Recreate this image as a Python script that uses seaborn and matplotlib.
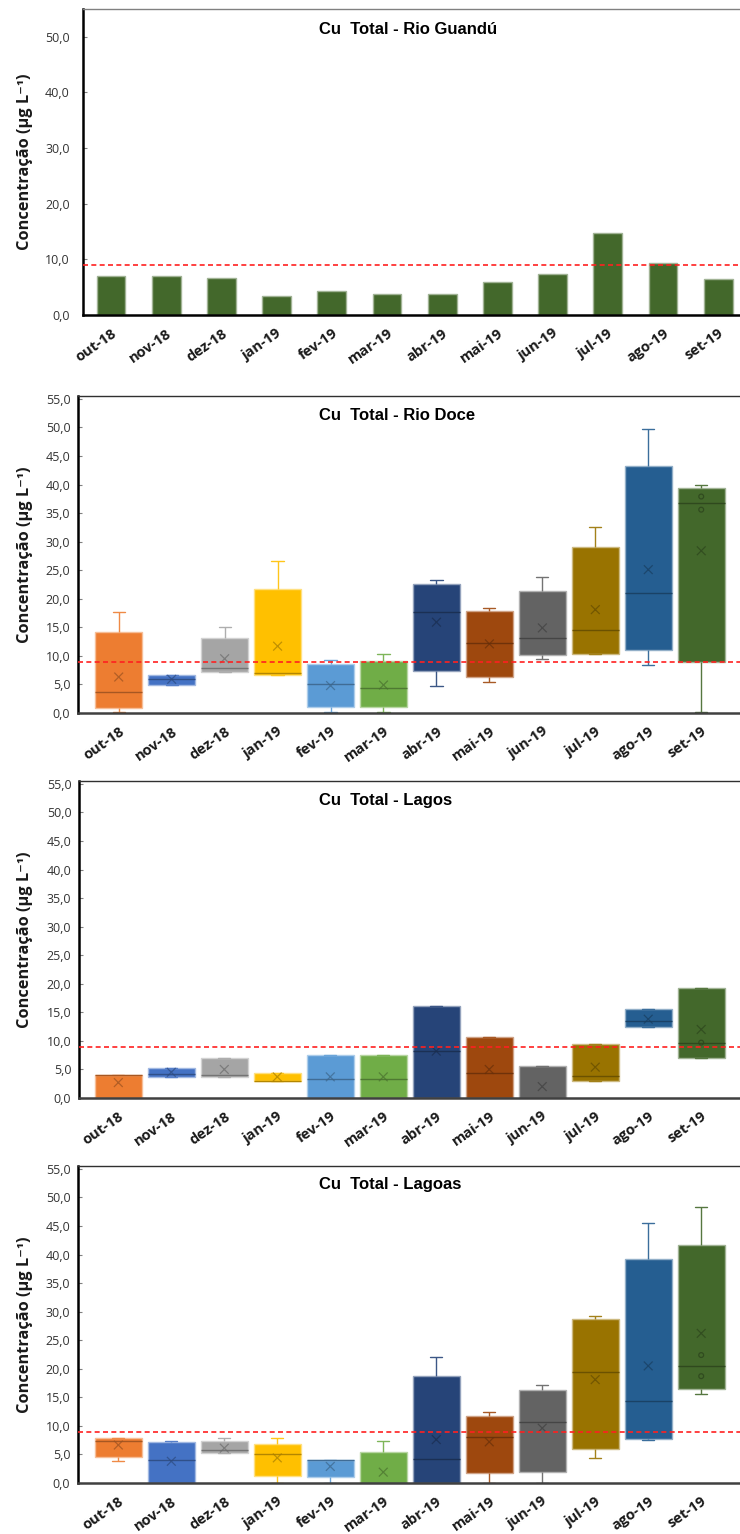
import numpy as np
import matplotlib
matplotlib.use("Agg")
import matplotlib.pyplot as plt
from matplotlib.colors import to_rgb
from matplotlib.ticker import FuncFormatter, MultipleLocator
import seaborn as sns

# ---------------------------------------------------------------- data
months = ["out-18", "nov-18", "dez-18", "jan-19", "fev-19", "mar-19",
          "abr-19", "mai-19", "jun-19", "jul-19", "ago-19", "set-19"]
month_colors = ["#ED7D31", "#4472C4", "#A5A5A5", "#FFC000", "#5B9BD5", "#70AD47",
                "#264478", "#9E480E", "#636363", "#997300", "#255E91", "#43682B"]

# Rio Guandú (single value per campaign)
guandu_values = [7.0, 7.0, 6.6, 3.4, 4.3, 3.7, 3.7, 6.0, 7.4, 14.7, 9.3, 6.4]

# Rio Doce
doce_low    = [0.1, 4.9, 7.2, 6.6, 0.1, 0.1, 4.8, 5.4, 9.5, 10.4, 8.4, 0.1]
doce_q1     = [0.8, 4.9, 7.2, 6.6, 1.05, 1.05, 7.4, 6.3, 10.2, 10.4, 11.0, 8.9]
doce_median = [3.7, 5.95, 7.8, 7.0, 5.0, 4.4, 17.6, 12.3, 13.1, 14.6, 21.0, 36.8]
doce_q3     = [14.2, 6.7, 13.2, 21.7, 8.6, 9.1, 22.5, 17.9, 21.4, 29.1, 43.2, 39.4]
doce_high   = [17.6, 6.7, 15.1, 26.6, 9.3, 10.4, 23.2, 18.3, 23.8, 32.6, 49.7, 39.9]
doce_mean   = [6.3, 5.9, 9.5, 11.7, 4.8, 4.9, 15.9, 12.1, 14.9, 18.1, 25.1, 28.4]
doce_points = {"set-19": [37.9, 35.6]}

# Lagos
lagos_low    = [0.0, 3.6, 3.6, 3.0, 0.0, 0.0, 0.0, 0.0, 0.0, 3.0, 12.4, 7.0]
lagos_q1     = [0.0, 3.6, 3.6, 3.0, 0.0, 0.0, 0.0, 0.0, 0.0, 3.0, 12.4, 7.0]
lagos_median = [4.0, 4.2, 4.0, 3.0, 3.3, 3.3, 8.2, 4.4, 0.0, 3.9, 13.5, 9.6]
lagos_q3     = [4.0, 5.3, 7.0, 4.4, 7.5, 7.5, 16.1, 10.6, 5.6, 9.5, 15.5, 19.3]
lagos_high   = [4.0, 5.3, 7.0, 4.4, 7.5, 7.5, 16.1, 10.6, 5.6, 9.5, 15.5, 19.3]
lagos_mean   = [2.7, 4.5, 5.0, 3.7, 3.7, 3.7, 8.2, 5.0, 2.0, 5.4, 13.8, 12.0]
lagos_points = {"set-19": [9.7]}

# Lagoas
lagoas_low    = [3.8, 0.0, 5.3, 0.0, 0.0, 0.0, 0.0, 0.0, 0.0, 4.4, 7.5, 15.6]
lagoas_q1     = [4.55, 0.0, 5.3, 1.2, 1.0, 0.0, 0.0, 1.75, 2.0, 6.0, 7.7, 16.4]
lagoas_median = [7.4, 4.0, 5.8, 5.0, 4.0, 0.0, 4.2, 8.0, 10.7, 19.4, 14.4, 20.5]
lagoas_q3     = [7.8, 7.2, 7.35, 6.9, 4.0, 5.5, 18.7, 11.7, 16.2, 28.8, 39.3, 41.7]
lagoas_high   = [7.8, 7.35, 7.9, 7.8, 4.1, 7.35, 22.0, 12.4, 17.1, 29.2, 45.6, 48.3]
lagoas_mean   = [6.65, 3.8, 6.1, 4.4, 2.9, 1.9, 7.6, 7.2, 9.6, 18.1, 20.5, 26.2]
lagoas_points = {"set-19": [22.4, 18.7]}

limit_value = 9.0

titles = ["Cu  Total - Rio Guandú", "Cu  Total - Rio Doce",
          "Cu  Total - Lagos", "Cu  Total - Lagoas"]
ylabel = "Concentração (µg L⁻¹)"

# ---------------------------------------------------------------- style
sns.set_theme(style="white")
plt.rcParams["font.family"] = ["Open Sans", "DejaVu Sans"]

W, H = 740, 1534
fig = plt.figure(figsize=(W / 100, H / 100), dpi=100)


def mix(c, other, t):
    a = np.array(to_rgb(c))
    b = np.array(to_rgb(other))
    return tuple(a * (1 - t) + b * t)


def comma_fmt(v, _pos):
    return f"{v:.1f}".replace(".", ",")


def make_axes(left, top, bottom, right=742):
    return fig.add_axes([left / W, 1 - bottom / H, (right - left) / W, (bottom - top) / H])


def finish_axes(ax, title, ymax, ystep, xlim, ytick_pad, title_dy):
    ax.set_ylim(0, ymax)
    ax.set_xlim(*xlim)
    ax.yaxis.set_major_locator(MultipleLocator(ystep))
    ax.yaxis.set_major_formatter(FuncFormatter(comma_fmt))
    if ystep == 10:
        ax.set_yticks(np.arange(0, 51, 10))
    ax.set_xticks(range(len(months)))
    ax.set_xticklabels(months, rotation=35, ha="right", rotation_mode="anchor",
                       fontweight="bold", fontsize=10.5, color="#1a1a1a")
    ax.tick_params(axis="x", length=0, pad=8)
    ax.tick_params(axis="y", direction="in", length=3, width=0.8, color="#808080",
                   labelsize=9, labelcolor="#333333", pad=ytick_pad, left=True)
    ax.set_xlabel("")
    ax.set_ylabel(ylabel, fontsize=11.8, fontweight="bold", color="#1a1a1a")
    pos = ax.get_position()
    left_px = pos.x0 * W
    width_px = pos.width * W
    ax.yaxis.set_label_coords((33 - left_px) / width_px, 0.5)
    for side in ["left", "bottom", "top"]:
        ax.spines[side].set_visible(True)
    ax.spines["right"].set_visible(False)
    ax.spines["left"].set_color("#000000")
    ax.spines["left"].set_linewidth(1.8)
    ax.spines["bottom"].set_color("#404040")
    ax.spines["bottom"].set_linewidth(1.8)
    ax.spines["top"].set_color("#303030")
    ax.spines["top"].set_linewidth(1.0)
    ax.axhline(limit_value, color="#FF2020", lw=1.2, ls=(0, (3, 2)), zorder=5)
    fig.text(319 / W, pos.y1 - title_dy / H, title, ha="left", va="center",
             fontsize=12, fontweight="bold", family="Liberation Sans", color="#000000")
    ax.grid(False)


def draw_boxes(ax, low, q1, med, q3, high, mean, points):
    for i, m in enumerate(months):
        vals = [low[i], q1[i], med[i], q3[i], high[i]]
        col = month_colors[i]
        sns.boxplot(x=[m] * 5, y=vals, order=months, color=col, saturation=1,
                    width=0.89, whis=(0, 100), linewidth=1.0, showfliers=False,
                    ax=ax,
                    boxprops=dict(edgecolor=mix(col, "white", 0.5)),
                    medianprops=dict(color=mix(col, "black", 0.3)),
                    whiskerprops=dict(color=mix(col, "white", 0.1)),
                    capprops=dict(color=mix(col, "white", 0.1)),
                    capwidths=0.23)
    dark = [mix(c, "black", 0.35) for c in month_colors]
    ax.scatter(np.arange(len(months)), mean, marker="x", s=40, c=dark,
               linewidths=0.9, alpha=0.7, zorder=4)
    for m, pts in points.items():
        i = months.index(m)
        c = mix(month_colors[i], "black", 0.35)
        ax.scatter([i] * len(pts), pts, marker="o", s=12, facecolors="none",
                   edgecolors=[c], linewidths=0.9, alpha=0.8, zorder=4)


# ---------------------------------------------------------------- Rio Guandú
ax1 = make_axes(83, 9, 315)
sns.barplot(x=months, y=guandu_values, color="#43682B", saturation=1, width=0.52,
            edgecolor=mix("#43682B", "white", 0.5), linewidth=1.0, ax=ax1)
finish_axes(ax1, titles[0], 55, 10, (-0.507, 11.43), 9.5, 20)
ax1.spines["top"].set_color("#808080")
ax1.spines["bottom"].set_color("#000000")

# ---------------------------------------------------------------- Rio Doce
ax2 = make_axes(78, 396, 713)
draw_boxes(ax2, doce_low, doce_q1, doce_median, doce_q3, doce_high, doce_mean, doce_points)
finish_axes(ax2, titles[1], 55.5, 5, (-0.769, 11.77), 5.5, 19)

# ---------------------------------------------------------------- Lagos
ax3 = make_axes(79, 781, 1098)
draw_boxes(ax3, lagos_low, lagos_q1, lagos_median, lagos_q3, lagos_high, lagos_mean, lagos_points)
finish_axes(ax3, titles[2], 55.5, 5, (-0.742, 11.77), 5.5, 19)

# ---------------------------------------------------------------- Lagoas
ax4 = make_axes(78, 1166, 1483)
draw_boxes(ax4, lagoas_low, lagoas_q1, lagoas_median, lagoas_q3, lagoas_high, lagoas_mean, lagoas_points)
finish_axes(ax4, titles[3], 55.5, 5, (-0.761, 11.77), 5.5, 19)

fig.savefig("out.png", dpi=100, facecolor="white")
